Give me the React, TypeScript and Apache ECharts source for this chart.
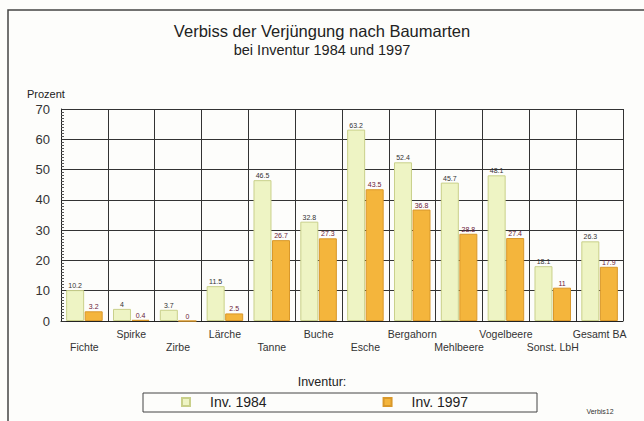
import React, { useEffect, useRef } from "react";
import * as echarts from "echarts";

const categories = [
  "Fichte", "Spirke", "Zirbe", "Lärche", "Tanne", "Buche",
  "Esche", "Bergahorn", "Mehlbeere", "Vogelbeere", "Sonst. LbH", "Gesamt BA",
];
const inv1984 = [10.2, 4, 3.7, 11.5, 46.5, 32.8, 63.2, 52.4, 45.7, 48.1, 18.1, 26.3];
const inv1997 = [3.2, 0.4, 0, 2.5, 26.7, 27.3, 43.5, 36.8, 28.8, 27.4, 11, 17.9];
const yTicks = [0, 10, 20, 30, 40, 50, 60, 70];

const FONT = "'Liberation Sans', Arial, sans-serif";

export default function App() {
  const ref = useRef<HTMLDivElement>(null);
  useEffect(() => {
    if (!ref.current) return;
    const chart = echarts.init(ref.current, undefined, { renderer: "svg" });
    chart.setOption({
      animation: false,
      backgroundColor: "#fdfdfb",
      textStyle: { fontFamily: FONT },
      title: {
        text: "Verbiss der Verjüngung nach Baumarten",
        subtext: "bei Inventur 1984 und 1997",
        left: "center",
        top: 17,
        itemGap: 3,
        textStyle: { fontSize: 16.5, fontWeight: "normal", color: "#222", fontFamily: FONT },
        subtextStyle: { fontSize: 14.5, color: "#222", fontFamily: FONT },
      },
      legend: {
        data: ["Inv. 1984", "Inv. 1997"],
        left: 176,
        top: 390,
        itemWidth: 8,
        itemHeight: 8,
        itemGap: 116,
        icon: "rect",
        textStyle: { fontSize: 14, color: "#222", fontFamily: FONT, padding: [0, 0, 0, 15] },
      },
      grid: { left: 61, right: 21, top: 109, bottom: 100, containLabel: false },
      xAxis: {
        type: "category",
        data: categories,
        axisLine: { show: true, lineStyle: { color: "#222", width: 1 } },
        axisTick: { show: false },
        splitLine: { show: true, interval: 0, lineStyle: { color: "#333", width: 1 } },
        axisLabel: {
          interval: 0,
          fontSize: 10.5,
          color: "#333",
          margin: 6,
          lineHeight: 13,
          fontFamily: FONT,
          formatter: (v: string, i: number) => (i % 2 === 0 ? "\n" + v : v),
        },
      },
      yAxis: {
        type: "value",
        min: yTicks[0],
        max: yTicks[yTicks.length - 1],
        interval: 10,
        name: "Prozent",
        nameLocation: "end",
        nameGap: 10,
        nameTextStyle: { fontSize: 11, color: "#222", align: "left", padding: [0, 0, 0, -34], fontFamily: FONT },
        axisLine: { show: true, lineStyle: { color: "#222", width: 1 } },
        axisTick: { show: true, inside: true, length: 5, lineStyle: { color: "#333" } },
        minorTick: { show: true, splitNumber: 10, length: 3, lineStyle: { color: "#555" } },
        splitLine: { show: true, lineStyle: { color: "#333", width: 1 } },
        axisLabel: { fontSize: 13, color: "#333", margin: 11, fontFamily: FONT },
      },
      series: [
        {
          name: "Inv. 1984",
          type: "bar",
          data: inv1984,
          barGap: "3%",
          barCategoryGap: "22%",
          itemStyle: { color: "#eef4c4", borderColor: "#c9d08a", borderWidth: 1 },
          label: {
            show: true,
            position: "top",
            distance: 1,
            fontSize: 7,
            color: "#333",
            fontFamily: FONT,
          },
        },
        {
          name: "Inv. 1997",
          type: "bar",
          data: inv1997,
          itemStyle: { color: "#f4b53c", borderColor: "#d9982a", borderWidth: 1 },
          label: {
            show: true,
            position: "top",
            distance: 1,
            fontSize: 7,
            color: "#6a1a3a",
            fontFamily: FONT,
          },
        },
      ],
      graphic: [
        {
          type: "rect",
          shape: { x: 8, y: 10, width: 650, height: 420 },
          style: { fill: "none", stroke: "#444", lineWidth: 1.5 },
          silent: true,
        },
        {
          type: "text",
          x: 322,
          y: 382,
          style: {
            text: "Inventur:",
            fontSize: 12.5,
            fill: "#222",
            fontFamily: FONT,
            align: "center",
            verticalAlign: "middle",
          },
        },
        {
          type: "rect",
          shape: { x: 143, y: 393, width: 394, height: 19 },
          style: { fill: "none", stroke: "#444", lineWidth: 1 },
          silent: true,
        },
        {
          type: "text",
          x: 600,
          y: 411,
          style: {
            text: "Verbis12",
            fontSize: 7,
            fill: "#333",
            fontFamily: FONT,
            align: "center",
            verticalAlign: "middle",
          },
        },
      ],
    });
    return () => chart.dispose();
  }, []);
  return <div ref={ref} style={{ width: 644, height: 421, position: "fixed", left: 0, top: 0 }} />;
}
